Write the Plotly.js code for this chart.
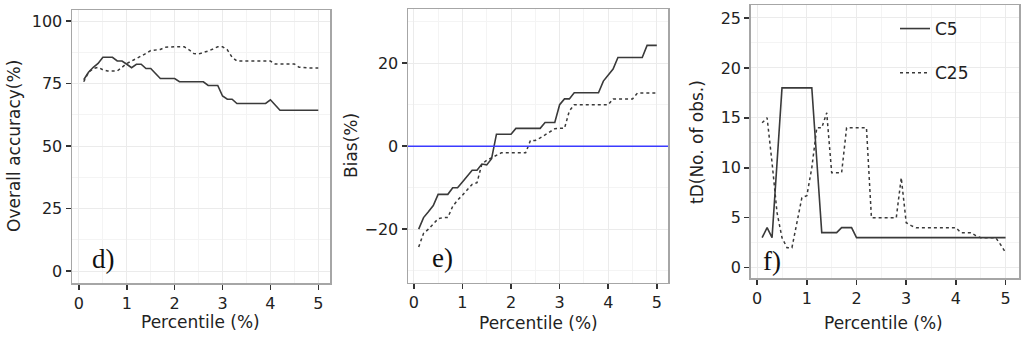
<!DOCTYPE html>
<html>
<head>
<meta charset="utf-8">
<script src="https://cdn.plot.ly/plotly-3.0.1.min.js"></script>
<style>html,body{margin:0;padding:0;background:#fff;}#chart{width:1024px;height:342px;}</style>
</head>
<body>
<div id="chart"></div>
<script>
// Percentile (%) values
const percentile = [0.1,0.2,0.3,0.4,0.5,0.6,0.7,0.8,0.9,1.0,
  1.1,1.2,1.3,1.4,1.5,1.6,1.7,1.8,1.9,2.0,
  2.1,2.2,2.3,2.4,2.5,2.6,2.7,2.8,2.9,3.0,
  3.1,3.2,3.3,3.4,3.5,3.6,3.7,3.8,3.9,4.0,
  4.1,4.2,4.3,4.4,4.5,4.6,4.7,4.8,4.9,5.0];

// d) Overall accuracy (%)
const accC5 = [76.5,79.5,81.5,83,85.5,85.5,85.5,84,84,82.7,
  81.3,82.7,82.7,81,81,79,77,77,77,77,
  75.7,75.7,75.7,75.7,75.7,75.7,74.2,74.2,74.2,70,
  68.7,68.7,67,67,67,67,67,67,67,68.5,
  66.5,64.3,64.3,64.3,64.3,64.3,64.3,64.3,64.3,64.3];
const accC25 = [75.7,79.5,81,81.5,80.5,80,80,80,81.5,83,
  84,85,85.7,87,88.2,88.4,88.6,89.5,89.7,89.7,
  89.7,89.7,88.5,87,86.8,87.3,88,88.8,89.7,89.7,
  88.5,85.5,84,84,84,84,84,84,84,84,
  82.8,82.8,82.8,82.8,82.8,81.5,81.2,81.2,81.2,81.2];

// e) Bias (%)
const biasC5 = [-20,-17.2,-15.8,-14.3,-11.6,-11.6,-11.6,-10,-10,-8.6,
  -7.2,-5.8,-5.8,-4.3,-4.5,-3,2.9,2.9,2.9,2.9,
  4.3,4.3,4.3,4.3,4.3,4.3,5.7,5.7,5.7,10,
  11.4,11.4,12.9,12.9,12.9,12.9,12.9,12.9,15.7,17.1,
  18.6,21.4,21.4,21.4,21.4,21.4,21.4,24.3,24.3,24.3];
const biasC25 = [-24.3,-21,-20,-18.8,-17.5,-17.2,-17.2,-14.5,-13,-11.8,
  -10.5,-9.2,-8.8,-4.3,-3.4,-2.8,-2.4,-1.6,-1.6,-1.6,
  -1.6,-1.6,-1.6,1.4,1.4,2,2.8,3.6,4.2,4.3,
  4.3,8.5,10,10,10,10,10,10,10,10,
  11.4,11.4,11.4,11.4,11.4,12.8,12.8,12.8,12.8,12.8];

// f) tD (No. of obs.)
const tdC5 = [3,4,3,10.5,18,18,18,18,18,18,
  18,10.75,3.5,3.5,3.5,3.5,4,4,4,3,
  3,3,3,3,3,3,3,3,3,3,
  3,3,3,3,3,3,3,3,3,3,
  3,3,3,3,3,3,3,3,3,3];
const tdC25 = [14.5,15,10.5,5.5,3,2,2,4.5,7,7.2,
  10,14,14,15.5,9.5,9.5,9.5,14,14,14,
  14,14,5,5,5,5,5,5,9,4.5,
  4.2,4,4,4,4,4,4,4,4,4,
  3.5,3.5,3.5,3.2,3,3,3,3,2.3,1.5];

const seriesNames = ['C5','C25'];
const panelLabels = ['d)','e)','f)'];
const yTitles = ['Overall accuracy(%)','Bias(%)','tD(No. of obs.)'];
const xTitle = 'Percentile (%)';

const W = 1024, H = 342;
const lineCol = '#3a3a3a';
const font = 'DejaVu Sans, Verdana, sans-serif';

function px(a,b){return [a/W,b/W];}
function py(top,bottom){return [1-bottom/H,1-top/H];}

const traces = [];
function addPair(ax, ys1, ys2, legend){
  const suffix = ax===1?'':String(ax);
  traces.push({x:percentile,y:ys1,type:'scatter',mode:'lines',name:seriesNames[0],
    xaxis:'x'+suffix,yaxis:'y'+suffix,line:{color:lineCol,width:1.6},
    showlegend:legend,legendgroup:'g1'});
  traces.push({x:percentile,y:ys2,type:'scatter',mode:'lines',name:seriesNames[1],
    xaxis:'x'+suffix,yaxis:'y'+suffix,line:{color:lineCol,width:1.5,dash:'3px,3px'},
    showlegend:legend,legendgroup:'g2'});
}
addPair(1, accC5, accC25, false);
addPair(2, biasC5, biasC25, false);
addPair(3, tdC5, tdC25, true);

// zero line for bias panel
traces.push({x:[-0.2,5.4],y:[0,0],type:'scatter',mode:'lines',xaxis:'x2',yaxis:'y2',
  line:{color:'#3b3bff',width:1.5},showlegend:false,hoverinfo:'skip'});

function xa(domain, range){
  return {domain:domain, range:range, tickmode:'linear', tick0:0, dtick:1,
    showgrid:true, gridcolor:'#ebebeb', gridwidth:1,
    minor:{showgrid:true, dtick:0.5, tick0:0, gridcolor:'#f4f4f4', gridwidth:1},
    zeroline:false, showline:true, mirror:true, linecolor:'#a6a6a6', linewidth:1.5,
    ticks:'outside', ticklen:5, tickwidth:1.5, tickcolor:'#333',
    tickfont:{family:font,size:16,color:'#222'}, fixedrange:true};
}
function ya(domain, range, dtick, minorDtick){
  return {domain:domain, range:range, tickmode:'linear', tick0:0, dtick:dtick,
    showgrid:true, gridcolor:'#ebebeb', gridwidth:1,
    minor:{showgrid:true, dtick:minorDtick, tick0:0, gridcolor:'#f4f4f4', gridwidth:1},
    zeroline:false, showline:true, mirror:true, linecolor:'#a6a6a6', linewidth:1.5,
    ticks:'outside', ticklen:5, tickwidth:1.5, tickcolor:'#333',
    tickfont:{family:font,size:16,color:'#222'}, fixedrange:true};
}

const x1 = xa(px(72,330), [-0.145,5.245]); x1.anchor='y';
const y1 = ya(py(10,283), [-4.8,104.4], 25, 12.5); y1.anchor='x';
const x2 = xa(px(408,668), [-0.12,5.23]); x2.anchor='y2';
const y2 = ya(py(9.3,282.7), [-32.9,33.0], 20, 10); y2.anchor='x2';
const x3 = xa(px(750.7,1019), [-0.13,5.27]); x3.anchor='y3';
const y3 = ya(py(5,278.3), [-1.07,26.3], 5, 2.5); y3.anchor='x3';

const annotations = [];
const titleFont = {family:font,size:17,color:'#222'};
// y titles
[[14,146],[351,146],[697,142]].forEach((p,i)=>{
  annotations.push({text:yTitles[i],xref:'paper',yref:'paper',x:p[0]/W,y:1-p[1]/H,
    showarrow:false,textangle:-90,font:titleFont,xanchor:'center',yanchor:'middle'});
});
// x titles
[[200,322],[538,323],[883,323]].forEach((p,i)=>{
  annotations.push({text:xTitle,xref:'paper',yref:'paper',x:p[0]/W,y:1-p[1]/H,
    showarrow:false,font:titleFont,xanchor:'center',yanchor:'middle'});
});
// panel labels
[[103,259],[442,258],[772,261]].forEach((p,i)=>{
  annotations.push({text:panelLabels[i],xref:'paper',yref:'paper',x:p[0]/W,y:1-p[1]/H,
    showarrow:false,font:{family:'Liberation Serif, Times New Roman, serif',size:27,color:'#111'},
    xanchor:'center',yanchor:'middle'});
});

const layout = {
  width:W, height:H, margin:{l:0,r:0,t:0,b:0},
  paper_bgcolor:'#fff', plot_bgcolor:'#fff',
  xaxis:x1, yaxis:y1, xaxis2:x2, yaxis2:y2, xaxis3:x3, yaxis3:y3,
  showlegend:true,
  legend:{x:895/W, y:1-11/H, xanchor:'left', yanchor:'top', bgcolor:'rgba(0,0,0,0)',
    font:{family:font,size:17,color:'#222'}, tracegroupgap:19, itemwidth:30},
  annotations:annotations
};

Plotly.newPlot('chart', traces, layout, {displayModeBar:false, staticPlot:true});
</script>
</body>
</html>
